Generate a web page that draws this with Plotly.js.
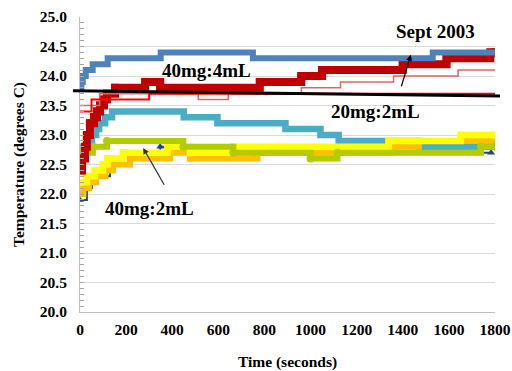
<!DOCTYPE html>
<html>
<head>
<meta charset="utf-8">
<script src="https://cdn.plot.ly/plotly-3.0.1.min.js"></script>
<style>
  html, body { margin: 0; padding: 0; background: #ffffff; }
  #chart { width: 512px; height: 371px; }
</style>
</head>
<body>
<div id="chart"></div>
<script>
// ---- Data (time in seconds, temperature in degrees C) ----
const blueT  = [0, 6, 12, 25, 55, 120, 350, 750, 1530, 1800];
const blueV  = [23.8, 23.9, 24.0, 24.1, 24.2, 24.3, 24.4, 24.3, 24.4, 24.4];

const darkRedT = [0, 9, 22, 30, 43, 61, 74, 87, 104, 117, 152, 283, 348, 780, 960, 1050, 1400, 1590, 1780, 1800];
const darkRedV = [22.4, 22.6, 22.8, 23.0, 23.2, 23.3, 23.4, 23.5, 23.6, 23.7, 23.8, 23.9, 23.8, 23.9, 24.0, 24.1, 24.2, 24.3, 24.4, 24.4];

const thinRedT = [0, 50, 300, 1800];
const thinRedV = [23.4, 23.6, 23.7, 23.7];

const salmonT = [0, 85, 513, 643, 960, 1130, 1360, 1640, 1800];
const salmonV = [23.5, 23.7, 23.6, 23.7, 23.8, 23.9, 24.0, 24.1, 24.1];

const tealT = [0, 15, 30, 52, 70, 83, 109, 139, 450, 596, 891, 1043, 1122, 1470, 1800];
const tealV = [22.7, 22.8, 22.9, 23.0, 23.1, 23.2, 23.3, 23.4, 23.3, 23.2, 23.1, 23.0, 22.9, 22.8, 22.8];

const greenT = [0, 56, 117, 448, 665, 1000, 1117, 1739, 1800];
const greenV = [22.7, 22.8, 22.9, 22.8, 22.7, 22.6, 22.7, 22.8, 22.8];

const yellowT = [0, 30, 65, 100, 120, 187, 380, 478, 665, 1339, 1652, 1800];
const yellowV = [22.2, 22.3, 22.4, 22.5, 22.6, 22.7, 22.8, 22.7, 22.8, 22.9, 23.0, 23.0];

const orangeT = [0, 15, 40, 70, 110, 143, 217, 391, 478, 770, 1360, 1470, 1800];
const orangeV = [22.0, 22.1, 22.2, 22.3, 22.4, 22.5, 22.6, 22.7, 22.6, 22.7, 22.8, 22.9, 22.9];

const navyT = [0, 30, 52, 74, 130, 196, 348, 1078, 1783];
const navyV = [21.9, 22.1, 22.2, 22.3, 22.6, 22.7, 22.8, 22.7, 22.7];

// reference line (black) end values
const refLineV = [23.75, 23.66];

const xTicks = [0, 200, 400, 600, 800, 1000, 1200, 1400, 1600, 1800];

const SERIF = '"Liberation Serif", "Times New Roman", serif';

function step(x, y, color, width, extra) {
  return Object.assign({
    x: x, y: y, type: 'scatter', mode: 'lines',
    line: { color: color, width: width, shape: 'hv' },
    hoverinfo: 'skip', showlegend: false
  }, extra || {});
}

const traces = [
  step(navyT, navyV, '#1F497D', 2, { mode: 'lines+markers',
       marker: { symbol: 'triangle-up', size: 7, color: '#1F497D' } }),
  step(tealT, tealV, '#4BACC6', 6.5),
  step(orangeT, orangeV, '#FFC000', 6, { mode: 'lines+markers',
       marker: { symbol: 'square', size: 6, color: '#FFC000' } }),
  step(yellowT, yellowV, '#FFFF00', 6.5, { mode: 'lines+markers',
       marker: { symbol: 'square', size: 7, color: '#FFFF00' } }),
  step(greenT, greenV, '#B2CC00', 6, { mode: 'lines+markers',
       marker: { symbol: 'circle', size: 8, color: '#B2CC00' } }),
  step(darkRedT, darkRedV, '#C00000', 8, { mode: 'lines+markers',
       marker: { symbol: 'square', size: 8, color: '#C00000' } }),
  step(salmonT, salmonV, '#E06464', 1.5),
  step(thinRedT, thinRedV, '#FF0000', 2),
  step(blueT, blueV, '#4F81BD', 6)
];

const annFont = { family: SERIF, size: 19, color: '#000000', weight: 'bold' };

const layout = {
  width: 512, height: 371,
  margin: { l: 80, r: 17, t: 17, b: 59 },
  paper_bgcolor: '#ffffff', plot_bgcolor: '#ffffff',
  showlegend: false,
  font: { family: SERIF, color: '#000000' },
  xaxis: {
    range: [0, 1800], tickvals: xTicks, ticktext: xTicks.map(String),
    showgrid: false, zeroline: false,
    showline: true, linecolor: '#BFBFBF', linewidth: 1,
    ticks: '', ticklabelstandoff: 3,
    tickfont: { family: SERIF, size: 15.5, color: '#000000', weight: 'bold' },
    title: { text: 'Time (seconds)', standoff: 20,
             font: { family: SERIF, size: 15.5, color: '#000000', weight: 'bold' } },
    automargin: false
  },
  yaxis: {
    range: [20, 25], dtick: 0.5, tick0: 20, tickformat: '.1f',
    showgrid: true, gridcolor: '#D9D9D9', gridwidth: 1, zeroline: false,
    showline: true, linecolor: '#BFBFBF', linewidth: 1,
    ticks: 'inside', ticklen: 4, tickcolor: '#A6A6A6', ticklabelstandoff: 9,
    minor: { dtick: 0.1, ticks: 'inside', ticklen: 4, tickcolor: '#A6A6A6', showgrid: false },
    tickfont: { family: SERIF, size: 15.5, color: '#000000', weight: 'bold' },
    title: { text: 'Temperature (degrees C)', standoff: 11,
             font: { family: SERIF, size: 15.5, color: '#000000', weight: 'bold' } },
    automargin: false
  },
  shapes: [{
    type: 'line', xref: 'paper', yref: 'y',
    x0: -0.017, x1: 1.012, y0: refLineV[0], y1: refLineV[1],
    line: { color: '#000000', width: 3 }, layer: 'above'
  }],
  annotations: [
    { x: 548, y: 24.085, xref: 'x', yref: 'y', text: '40mg:4mL', showarrow: false, font: annFont },
    { x: 1543, y: 24.75, xref: 'x', yref: 'y', text: 'Sept 2003', showarrow: false, font: annFont },
    { x: 1283, y: 23.39, xref: 'x', yref: 'y', text: '20mg:2mL', showarrow: false, font: annFont },
    { x: 300, y: 21.76, xref: 'x', yref: 'y', text: '40mg:2mL', showarrow: false, font: annFont },
    { x: 1435, y: 24.36, xref: 'x', yref: 'y', text: ' ', showarrow: true,
      ax: -12, ay: 40, arrowhead: 2, arrowsize: 1, arrowwidth: 1.2, arrowcolor: '#000000', standoff: 0 },
    { x: 274, y: 22.78, xref: 'x', yref: 'y', text: ' ', showarrow: true,
      ax: 24, ay: 42, arrowhead: 2, arrowsize: 1, arrowwidth: 1.2, arrowcolor: '#333333', standoff: 0 }
  ]
};

Plotly.newPlot('chart', traces, layout, { displayModeBar: false, staticPlot: true });
</script>
</body>
</html>
